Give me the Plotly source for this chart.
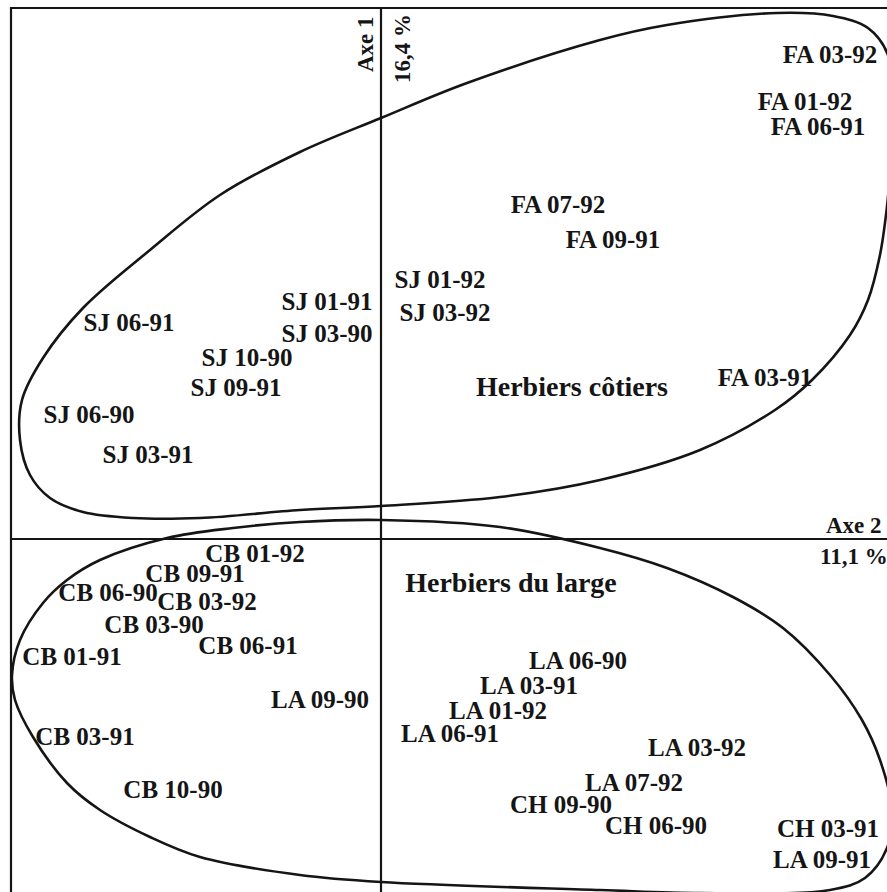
import plotly.graph_objects as go

# Factorial map scores (Axe 2 horizontal, Axe 1 vertical)
labels = ["FA 03-92", "FA 01-92", "FA 06-91", "FA 07-92", "FA 09-91", "SJ 01-92", "SJ 03-92",
          "FA 03-91", "SJ 01-91", "SJ 03-90", "SJ 06-91", "SJ 10-90", "SJ 09-91", "SJ 06-90",
          "SJ 03-91",
          "CB 01-92", "CB 09-91", "CB 06-90", "CB 03-92", "CB 03-90", "CB 06-91", "CB 01-91",
          "LA 09-90", "CB 03-91", "CB 10-90", "LA 06-90", "LA 03-91", "LA 01-92", "LA 06-91",
          "LA 03-92", "LA 07-92", "CH 09-90", "CH 06-90", "CH 03-91", "LA 09-91"]
axe2 = [4.49, 4.24, 4.37, 1.77, 2.32, 0.59, 0.64,
        3.84, -0.54, -0.54, -2.52, -1.34, -1.45, -2.92,
        -2.33,
        -1.26, -1.86, -2.73, -1.74, -2.27, -1.33, -3.09,
        -0.61, -2.96, -2.08, 1.97, 1.48, 1.17, 0.69,
        3.16, 2.53, 1.80, 2.75, 4.47, 4.41]
axe1 = [4.82, 4.35, 4.10, 3.32, 2.97, 2.57, 2.24,
        1.59, 2.35, 2.03, 2.14, 1.79, 1.49, 1.22,
        0.82,
        -0.17, -0.37, -0.56, -0.65, -0.88, -1.09, -1.20,
        -1.63, -2.00, -2.53, -1.24, -1.49, -1.74, -1.97,
        -2.11, -2.46, -2.68, -2.89, -2.92, -3.23]

groups = ["Herbiers côtiers", "Herbiers du large"]
group_x = [1.91, 1.30]
group_y = [1.50, -0.46]

# Hand-drawn group envelopes (seam placed off the right edge)
cot_x = [5.13, 5.09, 5.05, 4.99, 4.87, 4.69, 4.31, 3.94, 3.19, 2.19, 1.19, 0.00, -0.81,
         -1.81, -2.48, -2.98, -3.31, -3.51, -3.61, -3.59, -3.38, -2.98, -2.31, -1.61,
         -0.81, 0.00, 0.86, 2.19, 2.86, 3.96, 4.52, 4.87, 5.07, 5.13]
cot_y = [4.19, 3.64, 3.24, 2.84, 2.39, 2.04, 1.59, 1.29, 0.89, 0.59, 0.42, 0.33, 0.29,
         0.21, 0.21, 0.27, 0.41, 0.64, 0.99, 1.39, 1.81, 2.31, 2.89, 3.44,
         3.87, 4.21, 4.56, 4.99, 5.14, 5.26, 5.23, 5.11, 4.84, 4.19]

lar_x = [5.11, 5.06, 4.84, 4.49, 3.19, 2.19, 0.00, -0.81, -1.81, -2.31, -2.81, -3.14,
         -3.48, -3.66, -3.69, -3.61, -3.38, -3.14, -2.81, -2.14, -1.48, -0.81, 0.00,
         1.19, 2.19, 2.86, 3.52, 4.02, 4.49, 4.81, 4.99, 5.11]
lar_y = [-2.71, -3.09, -3.39, -3.51, -3.54, -3.51, -3.43, -3.36, -3.18, -2.98, -2.71, -2.44,
         -1.98, -1.61, -1.36, -1.01, -0.64, -0.41, -0.21, 0.01, 0.11, 0.17, 0.19,
         0.12, -0.09, -0.29, -0.58, -0.89, -1.36, -1.81, -2.21, -2.71]

INK = "#151515"
FONT = "Liberation Serif"

fig = go.Figure()
for gx, gy in [(cot_x, cot_y), (lar_x, lar_y)]:
    fig.add_trace(go.Scatter(x=gx, y=gy, mode="lines",
                             line=dict(color=INK, width=2.6, shape="spline", smoothing=1.0),
                             hoverinfo="skip", showlegend=False))

fig.add_trace(go.Scatter(x=axe2, y=axe1, mode="text", text=labels,
                         textposition="middle center",
                         textfont=dict(family=FONT, size=25, color=INK, weight="bold"),
                         showlegend=False, cliponaxis=False))
fig.add_trace(go.Scatter(x=group_x, y=group_y, mode="text", text=groups,
                         textposition="middle center",
                         textfont=dict(family=FONT, size=28, color=INK, weight="bold"),
                         showlegend=False))

xr = [-3.81, 5.06]
yr = [-3.53, 5.39]
shapes = [
    dict(type="rect", xref="x", yref="y", x0=-3.70, x1=5.30, y0=-3.80, y1=5.31,
         line=dict(color=INK, width=2.2)),
    dict(type="line", xref="x", yref="y", x0=0, x1=0, y0=-3.80, y1=5.31,
         line=dict(color=INK, width=2.2)),
    dict(type="line", xref="x", yref="y", x0=-3.70, x1=5.30, y0=0, y1=0,
         line=dict(color=INK, width=2.2)),
]

annot_font = dict(family=FONT, size=23, color=INK, weight="bold")
annotations = [
    dict(x=-0.16, y=4.95, xref="x", yref="y", text="Axe 1", textangle=-90,
         showarrow=False, font=annot_font),
    dict(x=0.21, y=4.90, xref="x", yref="y", text="16,4 %", textangle=-90,
         showarrow=False, font=annot_font),
    dict(x=4.73, y=0.14, xref="x", yref="y", text="Axe 2",
         showarrow=False, font=annot_font),
    dict(x=4.37, y=-0.17, xref="x", yref="y", text="11,1 %", xanchor="left",
         showarrow=False, font=annot_font),
]

fig.update_layout(
    width=887, height=892,
    margin=dict(l=0, r=0, t=0, b=0),
    paper_bgcolor="white", plot_bgcolor="white",
    xaxis=dict(range=xr, visible=False, fixedrange=True),
    yaxis=dict(range=yr, visible=False, fixedrange=True),
    shapes=shapes, annotations=annotations,
    showlegend=False,
)

# let the figure fill the window exactly (no default page margin / scrollbars)
page_fix = ("document.documentElement.style.overflow='hidden';"
            "document.body.style.margin='0';document.body.style.overflow='hidden';")
fig.write_html("out.html", post_script=page_fix, config={"displayModeBar": False})
